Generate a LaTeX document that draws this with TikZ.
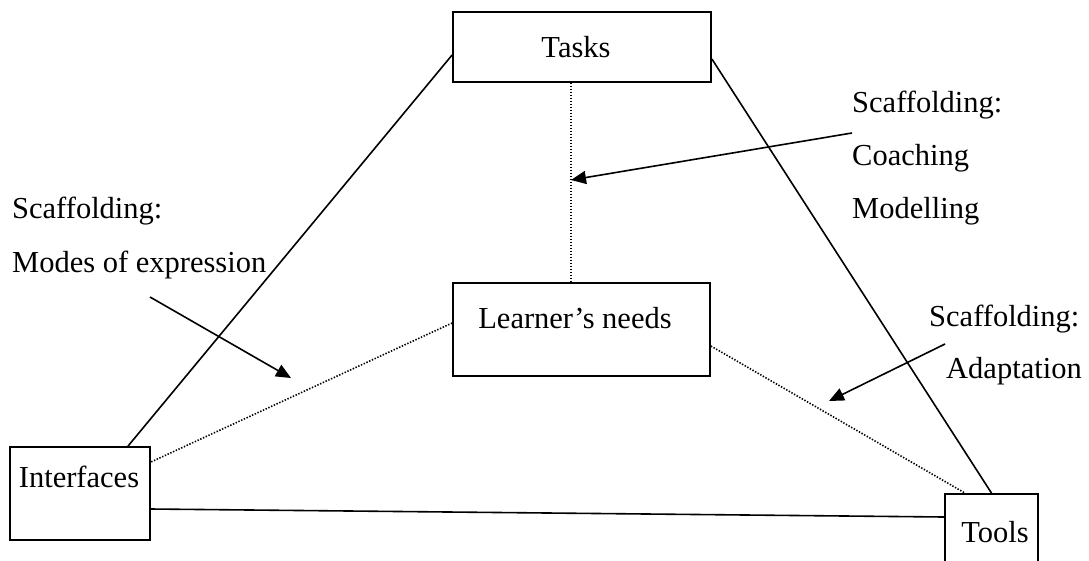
\documentclass[tikz,border=0pt]{standalone}
\usepackage{fontspec}
\setmainfont{Liberation Serif}
\usetikzlibrary{arrows.meta}
\begin{document}
\begin{tikzpicture}[x=1pt,y=-1pt,
  box/.style={draw=black, line width=1.8pt, rectangle, inner sep=0pt},
  txt/.style={inner sep=0pt, font=\fontsize{30.5}{36}\selectfont},
  link/.style={line width=1.6pt},
  weak/.style={line width=1.6pt, dash pattern=on 1.4pt off 1.6pt},
  pointer/.style={line width=1.6pt, -{Triangle[length=15pt,width=13pt]}}]
  \clip (0,0) rectangle (1089,560);
  \useasboundingbox (0,0) rectangle (1089,560);

  % the four boxes
  \node[box, minimum width=258pt, minimum height=70pt] (tasks) at (582,47) {};
  \node[box, minimum width=257pt, minimum height=93pt] (learner) at (581.5,329.5) {};
  \node[box, minimum width=140pt, minimum height=93pt] (interfaces) at (80,493.5) {};
  \node[box, minimum width=93pt, minimum height=93pt] (tools) at (991.5,540.5) {};

  % box captions
  \node[txt, anchor=base] (tasksT) at (576,57) {Tasks};
  \node[txt, anchor=base] (learnerT) at (575,328) {Learner’s needs};
  \node[txt, anchor=base] (interfacesT) at (79,487) {Interfaces};
  \node[txt, anchor=base] (toolsT) at (995,542) {Tools};

  % solid edges of the triangle
  \draw[link] ([yshift=-8pt]tasks.west) -- ([xshift=48pt]interfaces.north);
  \draw[link] ([yshift=-12pt]tasks.east) -- (tools.north);
  \draw[link] ([yshift=-15.5pt]interfaces.east) -- ([yshift=23.5pt]tools.west);

  % dotted spokes to the learner
  \draw[weak] ([xshift=-11pt]tasks.south) -- ([xshift=-10.5pt]learner.north);
  \draw[weak] ([yshift=6.5pt]learner.west) -- ([yshift=31.5pt]interfaces.east);
  \draw[weak] ([yshift=-16.5pt]learner.east) -- ([xshift=-26.5pt]tools.north);

  % scaffolding labels
  \node[txt, anchor=base west] (s1) at (12,218) {Scaffolding:};
  \node[txt, anchor=base west] (s1b) at (12,272) {Modes of expression};
  \node[txt, anchor=base west] (s2) at (852,112) {Scaffolding:};
  \node[txt, anchor=base west] (s2b) at (852,165) {Coaching};
  \node[txt, anchor=base west] (s2c) at (852,218) {Modelling};
  \node[txt, anchor=base west] (s3) at (929,326) {Scaffolding:};
  \node[txt, anchor=base west] (s3b) at (946,378) {Adaptation};

  % pointers from the labels to the spokes
  \coordinate (m1) at (150,297);
  \coordinate (m2) at (291,378);
  \coordinate (c1) at (852,133);
  \coordinate (c2) at (571,180);
  \coordinate (a1) at (945,344);
  \coordinate (a2) at (829,401);
  \draw[pointer] (m1) -- (m2);
  \draw[pointer] (c1) -- (c2);
  \draw[pointer] (a1) -- (a2);
\end{tikzpicture}
\end{document}
